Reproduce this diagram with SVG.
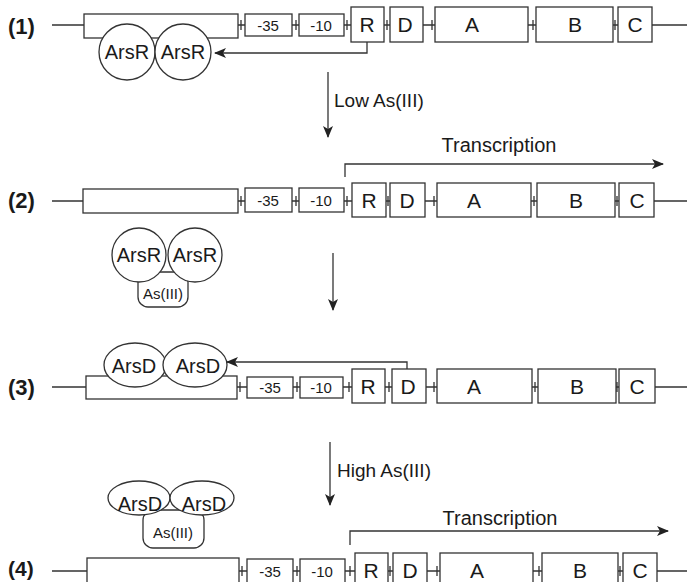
<svg xmlns="http://www.w3.org/2000/svg" width="687" height="582" viewBox="0 0 687 582">
<defs>
<style>
.b{fill:#fff;stroke:#333;stroke-width:1.3}
.l{fill:none;stroke:#333;stroke-width:1.3}
.t{font-family:"Liberation Sans",Arial,sans-serif;fill:#1a1a1a;text-anchor:middle}
.g{font-size:21px}
.s{font-size:15px}
.p{font-size:22px;font-weight:bold;text-anchor:start}
.lab{font-size:19px;text-anchor:start}
.n{font-size:20px}
.m{font-size:15px}
</style>
<marker id="ah" viewBox="0 0 12 10" refX="11" refY="5" markerWidth="12" markerHeight="10" markerUnits="userSpaceOnUse" orient="auto">
<path d="M0,0 L12,5 L0,10 L3,5 z" fill="#222"/>
</marker>
</defs>
<rect width="687" height="582" fill="#fff"/>

<!-- Row 1 -->
<g id="row1">
<text class="t p" x="8" y="34">(1)</text>
<path class="l" d="M52,25 H84 M238,25 H245 M292,25 H299 M344,25 H351 M384,25 H390 M423,25 H435 M528,25 H536 M613,25 H618 M652,25 H687"/>
<path class="l" d="M241,20 V30 M296,20 V30 M347,20 V30 M387,20 V30 M432,20 V30 M533,20 V30 M615,20 V30"/>
<rect class="b" x="84" y="14" width="154" height="24"/>
<rect class="b" x="245" y="14" width="47" height="22"/>
<text class="t s" x="268" y="31">-35</text>
<rect class="b" x="299" y="14" width="45" height="22"/>
<text class="t s" x="321" y="31">-10</text>
<rect class="b" x="351" y="7" width="33" height="35"/>
<text class="t g" x="367" y="32">R</text>
<rect class="b" x="390" y="7" width="33" height="35"/>
<text class="t g" x="405" y="32">D</text>
<rect class="b" x="435" y="7" width="93" height="35"/>
<text class="t g" x="472" y="32">A</text>
<rect class="b" x="536" y="7" width="77" height="35"/>
<text class="t g" x="575" y="32">B</text>
<rect class="b" x="618" y="7" width="34" height="35"/>
<text class="t g" x="635" y="32">C</text>
</g>
<g id="arsR1">
<circle class="b" cx="127" cy="52" r="28"/>
<circle class="b" cx="183" cy="52" r="28"/>
<text class="t n" x="127" y="59">ArsR</text>
<text class="t n" x="183" y="59">ArsR</text>
</g>

<!-- Row 2 -->
<g id="row2">
<text class="t p" x="8" y="208">(2)</text>
<path class="l" d="M52,201 H83 M238,201 H245 M292,201 H299 M344,201 H352 M386,201 H390 M425,201 H437 M531,201 H537 M615,201 H619 M654,201 H687"/>
<path class="l" d="M241,196 V206 M296,196 V206 M347,196 V206 M388,196 V206 M434,196 V206 M534,196 V206 M617,196 V206"/>
<rect class="b" x="83" y="189" width="155" height="24"/>
<rect class="b" x="245" y="188" width="47" height="24"/>
<text class="t s" x="268" y="206">-35</text>
<rect class="b" x="299" y="188" width="45" height="24"/>
<text class="t s" x="321" y="206">-10</text>
<rect class="b" x="352" y="183" width="34" height="34"/>
<text class="t g" x="369" y="208">R</text>
<rect class="b" x="390" y="183" width="35" height="34"/>
<text class="t g" x="407" y="208">D</text>
<rect class="b" x="437" y="183" width="94" height="34"/>
<text class="t g" x="474" y="208">A</text>
<rect class="b" x="537" y="183" width="78" height="34"/>
<text class="t g" x="576" y="208">B</text>
<rect class="b" x="619" y="183" width="35" height="34"/>
<text class="t g" x="637" y="208">C</text>
</g>
<g id="arsR2">
<rect class="b" x="138" y="272" width="50" height="35" rx="10"/>
<text class="t m" x="163" y="299">As(III)</text>
<circle class="b" cx="139" cy="255" r="27"/>
<circle class="b" cx="195" cy="255" r="27"/>
<text class="t n" x="139" y="262">ArsR</text>
<text class="t n" x="195" y="262">ArsR</text>
</g>

<!-- Row 3 -->
<g id="row3">
<text class="t p" x="8" y="395">(3)</text>
<path class="l" d="M52,387 H86 M237,387 H247 M293,387 H300 M343,387 H352 M385,387 H392 M426,387 H437 M532,387 H538 M616,387 H619 M655,387 H687"/>
<path class="l" d="M240,382 V392 M297,382 V392 M349,382 V392 M389,382 V392 M434,382 V392 M535,382 V392 M617,382 V392"/>
<rect class="b" x="86" y="376" width="151" height="23"/>
<rect class="b" x="247" y="377" width="46" height="21"/>
<text class="t s" x="270" y="393">-35</text>
<rect class="b" x="300" y="377" width="43" height="21"/>
<text class="t s" x="321" y="393">-10</text>
<rect class="b" x="352" y="369" width="33" height="34"/>
<text class="t g" x="368" y="394">R</text>
<rect class="b" x="392" y="369" width="34" height="34"/>
<text class="t g" x="408" y="394">D</text>
<rect class="b" x="437" y="369" width="95" height="34"/>
<text class="t g" x="474" y="394">A</text>
<rect class="b" x="538" y="369" width="78" height="34"/>
<text class="t g" x="577" y="394">B</text>
<rect class="b" x="619" y="369" width="36" height="34"/>
<text class="t g" x="637" y="394">C</text>
</g>
<g id="arsD3">
<ellipse class="b" cx="135" cy="365" rx="31" ry="22"/>
<ellipse class="b" cx="195" cy="365" rx="32" ry="22"/>
<text class="t n" x="134" y="373">ArsD</text>
<text class="t n" x="198" y="373">ArsD</text>
</g>

<!-- Row 4 -->
<g id="row4">
<text class="t p" x="8" y="576" style="font-size:21px">(4)</text>
<path class="l" d="M52,571 H87 M239,571 H247 M293,571 H300 M345,571 H355 M388,571 H393 M427,571 H440 M533,571 H542 M618,571 H623 M657,571 H687"/>
<path class="l" d="M242,566 V576 M297,566 V576 M350,566 V576 M390,566 V576 M437,566 V576 M539,566 V576 M620,566 V576"/>
<rect class="b" x="87" y="558" width="152" height="30"/>
<rect class="b" x="247" y="559" width="46" height="28"/>
<text class="t s" x="270" y="577">-35</text>
<rect class="b" x="300" y="559" width="45" height="28"/>
<text class="t s" x="322" y="577">-10</text>
<rect class="b" x="355" y="553" width="33" height="36"/>
<text class="t g" x="371" y="578">R</text>
<rect class="b" x="393" y="553" width="34" height="36"/>
<text class="t g" x="410" y="578">D</text>
<rect class="b" x="440" y="553" width="93" height="36"/>
<text class="t g" x="477" y="578">A</text>
<rect class="b" x="542" y="553" width="76" height="36"/>
<text class="t g" x="580" y="578">B</text>
<rect class="b" x="623" y="553" width="34" height="36"/>
<text class="t g" x="640" y="578">C</text>
</g>
<g id="arsD4">
<rect class="b" x="143" y="510" width="61" height="38" rx="10"/>
<text class="t m" x="173" y="538">As(III)</text>
<ellipse class="b" cx="139" cy="498" rx="31" ry="17"/>
<ellipse class="b" cx="202" cy="498" rx="32" ry="17"/>
<text class="t n" x="140" y="511">ArsD</text>
<text class="t n" x="204" y="511">ArsD</text>
</g>

<!-- Connectors -->
<g id="connectors">
<path class="l" d="M367,42 V53 H215" marker-end="url(#ah)"/>
<path class="l" d="M328,72 V137" marker-end="url(#ah)"/>
<text class="t lab" x="334" y="107">Low As(III)</text>
<path class="l" d="M345,177 V164 H663" marker-end="url(#ah)"/>
<text class="t n" x="499" y="152">Transcription</text>
<path class="l" d="M333,253 V310" marker-end="url(#ah)"/>
<path class="l" d="M407,369 V362 H227" marker-end="url(#ah)"/>
<path class="l" d="M330,442 V505" marker-end="url(#ah)"/>
<text class="t lab" x="337" y="477">High As(III)</text>
<path class="l" d="M350,545 V531 H668" marker-end="url(#ah)"/>
<text class="t n" x="500" y="525">Transcription</text>
</g>
</svg>
